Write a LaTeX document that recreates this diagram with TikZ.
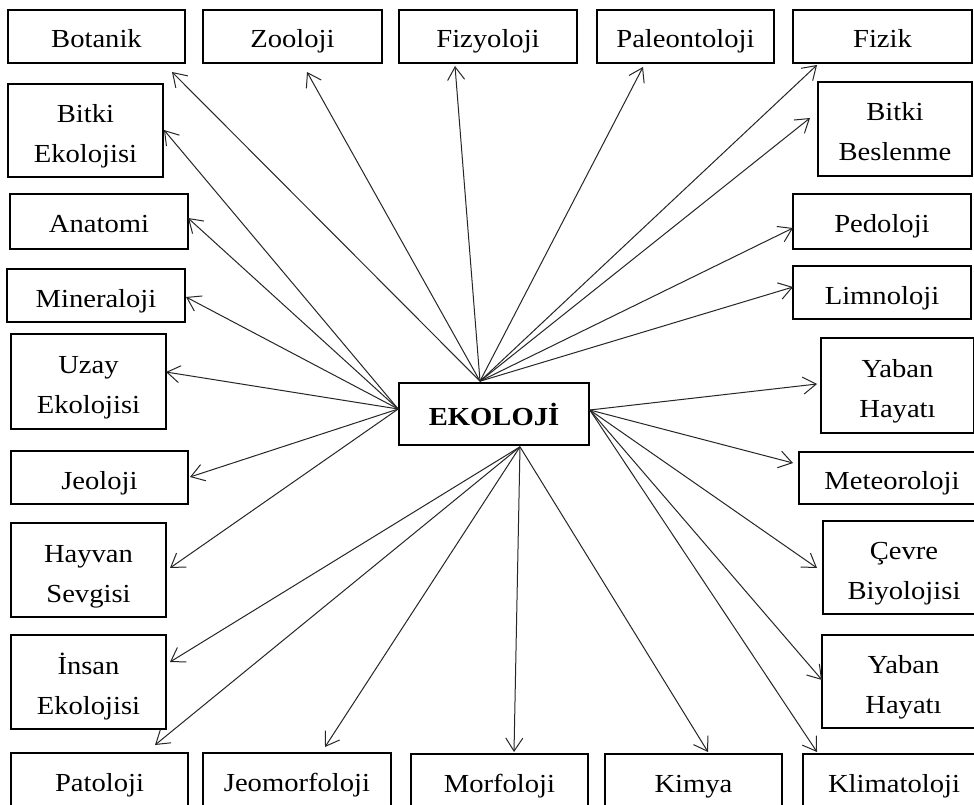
\documentclass[tikz,border=0pt]{standalone}
\usepackage{fontspec}
\setmainfont{Liberation Serif}[FakeStretch=1.1]
\usetikzlibrary{arrows.meta}
\tikzset{
  box/.style={draw=black, line width=1.6pt, inner sep=0pt, align=center,
    font=\fontsize{26pt}{40pt}\selectfont,
    execute at begin node={\rule{0pt}{29pt}},
    execute at end node={\rule[-6pt]{0pt}{6pt}}},
  link/.style={draw=black!85, line width=1pt,
    -{Straight Barb[length=13pt,width=17pt,line width=1pt]}}
}
\newcommand\bx[6]{\node[box, minimum width={#4-#2}, minimum height={#5-#3}]
  (#1) at ({(#2+#4)/2},{(#3+#5)/2}) {#6};}
\newcommand\tw[2]{\rule{0pt}{30pt}#1\\#2}
\begin{document}
\begin{tikzpicture}[x=1pt,y=-1pt]
\useasboundingbox (0,0) rectangle (974,805);
\clip (0,0) rectangle (974,805);
\fill[white] (0,0) rectangle (974,805);
% top row
\bx{bot}{8}{10}{185}{63}{Botanik}
\bx{zoo}{203}{10}{382}{63}{Zooloji}
\bx{fiz}{399}{10}{577}{63}{Fizyoloji}
\bx{pal}{597}{10}{774}{63}{Paleontoloji}
\bx{fzk}{793}{10}{972}{63}{Fizik}
% left column
\bx{bek}{8}{84}{163}{177}{\tw{Bitki}{Ekolojisi}}
\bx{ana}{10}{194}{188}{249}{Anatomi}
\bx{min}{7}{269}{185}{322}{Mineraloji}
\bx{uza}{11}{334}{166}{429}{\tw{Uzay}{Ekolojisi}}
\bx{jeo}{11}{451}{188}{504}{Jeoloji}
\bx{hay}{11}{523}{166}{617}{\tw{Hayvan}{Sevgisi}}
\bx{ins}{11}{635}{166}{729}{\tw{İnsan}{Ekolojisi}}
% bottom row
\bx{pat}{11}{753}{188}{806}{Patoloji}
\bx{jmf}{203}{753}{391}{806}{Jeomorfoloji}
\bx{mor}{411}{754}{588}{807}{Morfoloji}
\bx{kim}{605}{754}{782}{807}{Kimya}
\bx{kli}{803}{754}{985}{807}{Klimatoloji}
% right column
\bx{bbs}{818}{82}{972}{176}{\tw{Bitki}{Beslenme}}
\bx{ped}{793}{194}{971}{249}{Pedoloji}
\bx{lim}{793}{266}{971}{319}{Limnoloji}
\bx{yb1}{821}{338}{974}{433}{\tw{Yaban}{Hayatı}}
\bx{met}{799}{452}{985}{504}{Meteoroloji}
\bx{cev}{823}{521}{985}{614}{\tw{Çevre}{Biyolojisi}}
\bx{yb2}{822}{635}{985}{728}{\tw{Yaban}{Hayatı}}
% centre
\node[box, minimum width=190, minimum height=62,
  font=\fontsize{26pt}{40pt}\selectfont\bfseries,
  execute at begin node={\rule{0pt}{22pt}}]
  (eko) at (494,414) {EKOLOJİ};
% source points
\coordinate (sT) at ([xshift=-14pt,yshift=1pt]eko.north);
\coordinate (sL) at ([yshift=5pt]eko.west);
\coordinate (sR) at ([yshift=4pt]eko.east);
\coordinate (sB) at ([xshift=26pt,yshift=-1pt]eko.south);
% arrow tips
\coordinate (tbot) at (172,72);
\coordinate (tzoo) at (307,72);
\coordinate (tfiz) at (455,66);
\coordinate (tpal) at (643,67);
\coordinate (tfzk) at (817,65);
\coordinate (tbbs) at (810,118);
\coordinate (tped) at (793,228);
\coordinate (tlim) at (793,287);
\coordinate (tbek) at (164,130);
\coordinate (tana) at (188,218);
\coordinate (tmin) at (186,297);
\coordinate (tuza) at (166,372);
\coordinate (tjeo) at (190,477);
\coordinate (thay) at (170,568);
\coordinate (tyb1) at (817,384);
\coordinate (tmet) at (793,463);
\coordinate (tcev) at (817,568);
\coordinate (tyb2) at (822,680);
\coordinate (tkli) at (817,752);
\coordinate (tins) at (170,662);
\coordinate (tpat) at (155,745);
\coordinate (tjmf) at (325,747);
\coordinate (tmor) at (514,752);
\coordinate (tkim) at (708,752);
% connectors
\foreach \t in {tbot,tzoo,tfiz,tpal,tfzk,tbbs,tped,tlim}
  \draw[link] (sT) -- (\t);
\foreach \t in {tbek,tana,tmin,tuza,tjeo,thay}
  \draw[link] (sL) -- (\t);
\foreach \t in {tyb1,tmet,tcev,tyb2,tkli}
  \draw[link] (sR) -- (\t);
\foreach \t in {tins,tpat,tjmf,tmor,tkim}
  \draw[link] (sB) -- (\t);
\end{tikzpicture}
\end{document}
